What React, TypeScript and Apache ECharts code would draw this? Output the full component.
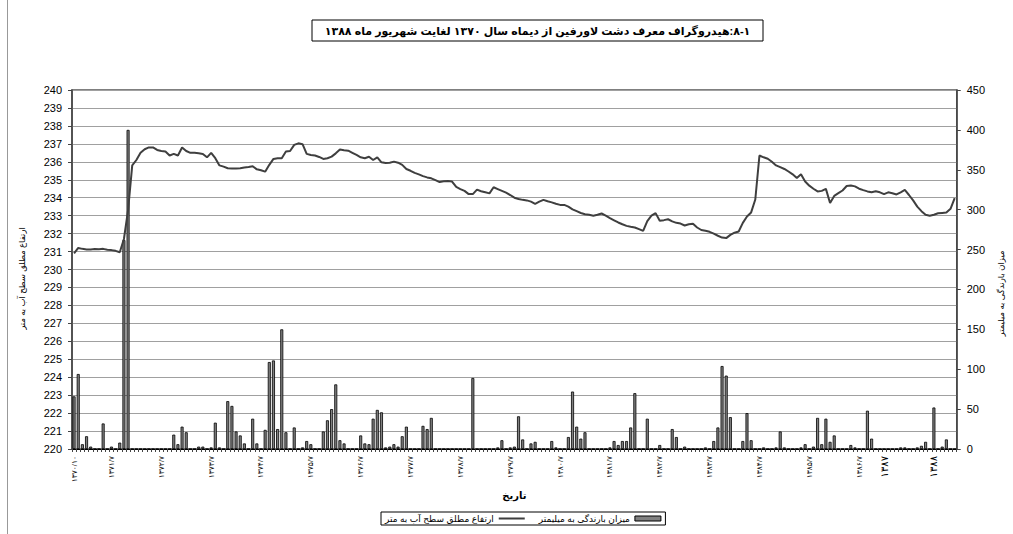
import * as echarts from "echarts";
import { useEffect, useRef } from "react";

const TITLE = "۸-۱:هیدروگراف معرف دشت لاورفین از دیماه سال ۱۳۷۰ لغایت شهریور ماه ۱۳۸۸";
const LEVEL_NAME = "ارتفاع مطلق سطح آب به متر";
const RAIN_NAME = "میزان بارندگی به میلیمتر";
const X_NAME = "تاریخ";

const START_YEAR = 1370;
const START_MONTH = 10;

// water level (m), monthly from 1370/10 to 1388/6
const level = [
  230.9, 231.2, 231.15, 231.12, 231.12, 231.14, 231.13, 231.15, 231.1, 231.08, 231.04, 230.96,
  231.7, 233.3, 235.8, 236.1, 236.5, 236.7, 236.8, 236.8, 236.66, 236.6, 236.57, 236.35,
  236.44, 236.35, 236.8, 236.6, 236.5, 236.5, 236.47, 236.44, 236.25, 236.5, 236.2, 235.8,
  235.73, 235.64, 235.62, 235.62, 235.64, 235.68, 235.71, 235.75, 235.58, 235.53, 235.45, 235.83,
  236.16, 236.2, 236.2, 236.57, 236.6, 236.94, 237.03, 236.98, 236.44, 236.38, 236.35, 236.27,
  236.16, 236.2, 236.29, 236.47, 236.68, 236.64, 236.62, 236.5, 236.38, 236.25, 236.2, 236.28,
  236.1, 236.25, 235.97, 235.93, 235.95, 236.01, 235.95, 235.83, 235.6, 235.5, 235.38, 235.3,
  235.2, 235.13, 235.08, 234.98, 234.87, 234.92, 234.93, 234.9, 234.6, 234.48, 234.38, 234.2,
  234.2, 234.45, 234.36, 234.3, 234.24, 234.58, 234.48, 234.38, 234.28, 234.15, 234.0, 233.93,
  233.88, 233.85, 233.78, 233.66, 233.78, 233.88, 233.8, 233.74, 233.66, 233.6, 233.6, 233.5,
  233.35, 233.25, 233.15, 233.08, 233.05, 233.0, 233.05, 233.12, 233.0, 232.86, 232.74, 232.62,
  232.52, 232.43, 232.38, 232.34, 232.25, 232.15, 232.7, 233.0, 233.14, 232.72, 232.75, 232.8,
  232.68, 232.6, 232.56, 232.45, 232.52, 232.55, 232.34, 232.2, 232.16, 232.1, 232.0, 231.88,
  231.78, 231.75, 231.93, 232.05, 232.12, 232.6, 232.95, 233.18, 233.9, 236.35, 236.25, 236.17,
  236.0, 235.8, 235.7, 235.6, 235.46, 235.3, 235.1, 235.3, 234.9, 234.67, 234.5, 234.35,
  234.38, 234.49, 233.7, 234.1, 234.25, 234.4, 234.65, 234.68, 234.63, 234.5, 234.42, 234.35,
  234.3, 234.36, 234.3, 234.2, 234.3, 234.25, 234.18, 234.3, 234.43, 234.15, 233.85, 233.5,
  233.25, 233.05, 233.0, 233.05, 233.13, 233.15, 233.17, 233.38, 233.97,
];

// monthly rainfall (mm)
const rain = [
  66, 94, 6, 16, 3, 0, 0, 32, 0, 3, 0, 8,
  262, 400, 0, 0, 0, 0, 0, 0, 0, 0, 0, 0,
  18, 6, 28, 21, 0, 0, 3, 3, 0, 2, 33, 2,
  0, 60, 54, 22, 17, 7, 0, 38, 7, 0, 24, 109,
  111, 25, 150, 21, 0, 27, 0, 2, 10, 6, 0, 0,
  22, 36, 50, 81, 11, 7, 0, 0, 0, 17, 7, 6,
  38, 49, 46, 2, 3, 6, 3, 16, 28, 0, 0, 0,
  29, 25, 39, 0, 0, 0, 0, 0, 0, 0, 0, 0,
  89, 0, 0, 0, 0, 0, 2, 11, 0, 2, 3, 41,
  12, 0, 7, 9, 0, 0, 0, 10, 2, 0, 0, 15,
  72, 28, 13, 21, 0, 0, 0, 0, 0, 2, 10, 5,
  10, 10, 27, 70, 0, 0, 38, 0, 0, 5, 0, 0,
  25, 15, 0, 3, 0, 0, 0, 0, 2, 0, 10, 27,
  104, 92, 40, 0, 0, 10, 45, 11, 0, 0, 2, 0,
  0, 2, 22, 2, 0, 0, 0, 2, 6, 0, 3, 39,
  6, 38, 9, 17, 0, 0, 0, 5, 2, 0, 0, 48,
  13, 0, 0, 0, 0, 0, 0, 2, 2, 0, 0, 2,
  4, 9, 0, 52, 0, 3, 12, 0, 0,
];

const tickCategories = [
  "۱۳۷۰/۱۰", "۱۳۷۱/۷", "۱۳۷۲/۷", "۱۳۷۳/۷", "۱۳۷۴/۷", "۱۳۷۵/۷", "۱۳۷۶/۷",
  "۱۳۷۷/۷", "۱۳۷۸/۷", "۱۳۷۹/۷", "۱۳۸۰/۷", "۱۳۸۱/۷", "۱۳۸۲/۷", "۱۳۸۳/۷",
  "۱۳۸۴/۷", "۱۳۸۵/۷", "۱۳۸۶/۷", "۱۳۸۷/۱", "۱۳۸۸/۱",
];
const tickLabels = [
  "۱۳۷۰/۱۰", "۱۳۷۱/۷", "۱۳۷۲/۷", "۱۳۷۳/۷", "۱۳۷۴/۷", "۱۳۷۵/۷", "۱۳۷۶/۷",
  "۱۳۷۷/۷", "۱۳۷۸/۷", "۱۳۷۹/۷", "۱۳۸۰/۷", "۱۳۸۱/۷", "۱۳۸۲/۷", "۱۳۸۳/۷",
  "۱۳۸۴/۷", "۱۳۸۵/۷", "۱۳۸۶/۷", "۱۳۸۷", "۱۳۸۸",
];
const bigTicks = ["۱۳۸۷", "۱۳۸۸"];

const FA = "۰۱۲۳۴۵۶۷۸۹";
const toFa = (s: string) => s.replace(/[0-9]/g, (d) => FA[Number(d)]);

const months = level.map((_, i) => {
  const t = START_MONTH - 1 + i;
  const y = START_YEAR + Math.floor(t / 12);
  const m = (t % 12) + 1;
  return toFa(`${y}/${m}`);
});

const FONT = '"Liberation Sans", Arial, "DejaVu Sans", sans-serif';
const RTL_TEXTS = [TITLE, LEVEL_NAME, RAIN_NAME, X_NAME];

export default function App() {
  const ref = useRef<HTMLDivElement>(null);
  useEffect(() => {
    document.body.style.margin = "0";
    const el = ref.current!;
    const chart = echarts.init(el, undefined, { renderer: "svg" });
    const fixRtl = () => {
      el.querySelectorAll("text").forEach((t) => {
        if (RTL_TEXTS.indexOf((t.textContent || "").trim()) >= 0 && t.getAttribute("text-anchor") === "middle") {
          t.setAttribute("direction", "rtl");
          (t as SVGTextElement).style.direction = "rtl";
        }
      });
    };
    chart.on("finished", fixRtl);
    chart.setOption({
      animation: false,
      backgroundColor: "#fff",
      textStyle: { fontFamily: FONT },
      grid: {
        left: 72,
        right: 50,
        top: 90,
        bottom: 85,
        show: true,
        borderColor: "#555",
        borderWidth: 1.5,
      },
      legend: {
        data: [
          {
            name: LEVEL_NAME,
            icon: "path://M0 0H26V2H0Z",
            itemStyle: { color: "#3f3f3f", borderWidth: 0 },
          },
          {
            name: RAIN_NAME,
            icon: "rect",
            itemStyle: { color: "#808080", borderColor: "#000", borderWidth: 1 },
          },
        ],
        left: 381,
        top: 512,
        align: "right",
        itemWidth: 26,
        itemHeight: 5,
        itemGap: 14,
        padding: [2, 4],
        borderColor: "#000",
        borderWidth: 1,
        textStyle: { fontSize: 9, color: "#000", fontFamily: FONT },
      },
      xAxis: {
        type: "category",
        data: months,
        boundaryGap: true,
        name: X_NAME,
        nameLocation: "middle",
        nameGap: 40,
        nameTextStyle: { fontSize: 10, fontWeight: "bold", color: "#000" },
        axisLine: { lineStyle: { color: "#000", width: 1 } },
        axisTick: { show: true, interval: 0, length: 3, lineStyle: { color: "#444" } },
        axisLabel: {
          interval: (_i: number, v: string) => tickCategories.indexOf(v) >= 0,
          rotate: 90,
          margin: 7,
          fontSize: 7.5,
          color: "#000",
          formatter: (v: string) => {
            const k = tickCategories.indexOf(v);
            const t = k >= 0 ? tickLabels[k] : "";
            return bigTicks.indexOf(t) >= 0 ? `{big|${t}}` : t;
          },
          rich: { big: { fontSize: 10, color: "#000" } },
        },
        splitLine: { show: false },
      },
      yAxis: [
        {
          type: "value",
          min: 220,
          max: 240,
          interval: 1,
          position: "left",
          name: LEVEL_NAME,
          nameLocation: "middle",
          nameGap: 46,
          nameRotate: 90,
          nameTextStyle: { fontSize: 8.5, color: "#000", padding: [0, 18, 0, 0] },
          axisLine: { show: true, lineStyle: { color: "#444", width: 1.5 } },
          axisTick: { show: true, length: 4, lineStyle: { color: "#444" } },
          axisLabel: { fontSize: 11, color: "#000", margin: 10 },
          splitLine: { show: true, lineStyle: { color: "#a0a0a0", width: 1 } },
        },
        {
          type: "value",
          min: 0,
          max: 450,
          interval: 50,
          position: "right",
          name: RAIN_NAME,
          nameLocation: "middle",
          nameGap: 36,
          nameRotate: 90,
          nameTextStyle: { fontSize: 8.5, color: "#000", padding: [0, 48, 0, 0] },
          axisLine: { show: true, lineStyle: { color: "#444", width: 1.5 } },
          axisTick: { show: true, length: 4, lineStyle: { color: "#444" } },
          axisLabel: { fontSize: 11, color: "#000", margin: 10 },
          splitLine: { show: false },
        },
      ],
      series: [
        {
          name: RAIN_NAME,
          type: "bar",
          yAxisIndex: 1,
          data: rain,
          barWidth: 3,
          itemStyle: { color: "#808080", borderColor: "#000", borderWidth: 0.8 },
        },
        {
          name: LEVEL_NAME,
          type: "line",
          yAxisIndex: 0,
          data: level,
          symbol: "none",
          lineStyle: { color: "#3f3f3f", width: 2 },
          itemStyle: { color: "#3f3f3f" },
        },
      ],
      graphic: [
        {
          type: "line",
          shape: { x1: 7.5, y1: 0, x2: 7.5, y2: 534 },
          style: { stroke: "#999", lineWidth: 1 },
        },
        {
          type: "rect",
          shape: { x: 312, y: 20, width: 451, height: 21 },
          style: { fill: "#fff", stroke: "#000", lineWidth: 1 },
        },
        {
          type: "text",
          x: 537.5,
          y: 31,
          style: {
            text: TITLE,
            align: "center",
            verticalAlign: "middle",
            fill: "#000",
            font: `bold 11px ${FONT}`,
          },
        },
      ],
    });
    fixRtl();
    const raf = requestAnimationFrame(fixRtl);
    return () => {
      cancelAnimationFrame(raf);
      chart.dispose();
    };
  }, []);
  return (
    <div
      ref={ref}
      style={{ position: "absolute", left: 0, top: 0, width: 1013, height: 534 }}
    />
  );
}
